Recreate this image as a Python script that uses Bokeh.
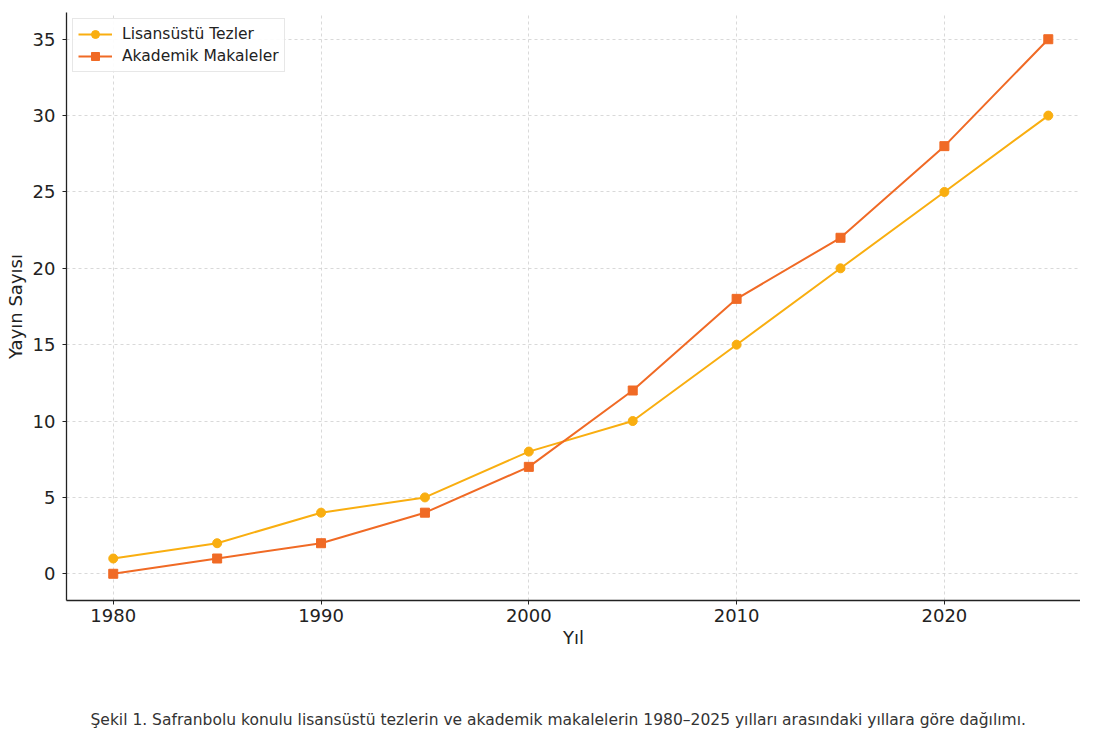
from bokeh.plotting import figure
from bokeh.models import Range1d, Label, FixedTicker, Legend
from bokeh.layouts import column
from bokeh.embed import file_html
from bokeh.resources import INLINE

years = [1980, 1985, 1990, 1995, 2000, 2005, 2010, 2015, 2020, 2025]
tezler = [1, 2, 4, 5, 8, 10, 15, 20, 25, 30]
makaleler = [0, 1, 2, 4, 7, 12, 18, 22, 28, 35]
x_ticks = [1980, 1990, 2000, 2010, 2020]
y_ticks = [0, 5, 10, 15, 20, 25, 30, 35]
caption = ("Şekil 1. Safranbolu konulu lisansüstü tezlerin ve akademik makalelerin "
           "1980–2025 yılları arasındaki yıllara göre dağılımı.")

FONT = "DejaVu Sans"
YEL = "#f9ae10"
ORA = "#f06a25"

p = figure(width=1080, height=707, output_backend="svg", toolbar_location=None,
           x_range=Range1d(1977.75, 2026.55), y_range=Range1d(-1.75, 36.75),
           min_border_left=66, min_border_right=0, min_border_top=12, min_border_bottom=107)
p.outline_line_color = None
p.background_fill_color = "white"
p.border_fill_color = "white"

for ax in (p.xaxis[0], p.yaxis[0]):
    ax.axis_line_color = "#222222"
    ax.axis_line_width = 1.3
    ax.major_tick_in = 0
    ax.major_tick_out = 4
    ax.major_tick_line_color = "#222222"
    ax.minor_tick_line_color = None
    ax.major_label_text_font = FONT
    ax.major_label_text_font_size = "18px"
    ax.major_label_text_color = "#222222"
    ax.axis_label_text_font = FONT
    ax.axis_label_text_font_size = "18px"
    ax.axis_label_text_font_style = "normal"
    ax.axis_label_text_color = "#222222"

p.xaxis.ticker = FixedTicker(ticks=x_ticks)
p.yaxis.ticker = FixedTicker(ticks=y_ticks)
p.xaxis.axis_label = "Yıl"
p.yaxis.axis_label = "Yayın Sayısı"
p.xaxis.major_label_standoff = 4
p.yaxis.major_label_standoff = 7
p.xaxis.axis_label_standoff = 2
p.yaxis.axis_label_standoff = 4

for g in (p.xgrid[0], p.ygrid[0]):
    g.grid_line_color = "#cfcfcf"
    g.grid_line_dash = "3 3"
    g.grid_line_width = 0.8

l1 = p.line(years, tezler, line_color=YEL, line_width=2)
s1 = p.scatter(years, tezler, marker="circle", size=9, fill_color=YEL, line_color=YEL)
l2 = p.line(years, makaleler, line_color=ORA, line_width=2)
s2 = p.scatter(years, makaleler, marker="square", size=9, fill_color=ORA, line_color=ORA)

legend = Legend(items=[("Lisansüstü Tezler", [l1, s1]), ("Akademik Makaleler", [l2, s2])],
                location="top_left")
legend.margin = 6
legend.padding = 5
legend.spacing = 2
legend.glyph_width = 34
legend.glyph_height = 20
legend.label_text_font = FONT
legend.label_text_font_size = "15.5px"
legend.label_text_color = "#222222"
legend.label_standoff = 10
legend.border_line_color = "#d0d0d0"
legend.border_line_width = 1
legend.background_fill_alpha = 0.9
p.add_layout(legend)

# caption strip below the chart
c = figure(width=1080, height=24, output_backend="svg", toolbar_location=None,
           x_range=Range1d(0, 1), y_range=Range1d(0, 1),
           min_border=0, x_axis_type=None, y_axis_type=None)
c.outline_line_color = None
c.grid.visible = False
c.border_fill_color = "white"
c.background_fill_color = "white"
cap = Label(x=24, y=12, x_units="screen", y_units="screen", text=caption,
            text_font=FONT, text_font_size="15.5px", text_color="#333333",
            text_baseline="middle")
c.add_layout(cap)

layout = column(p, c, spacing=0)
open("out.html", "w").write(file_html(layout, INLINE))
